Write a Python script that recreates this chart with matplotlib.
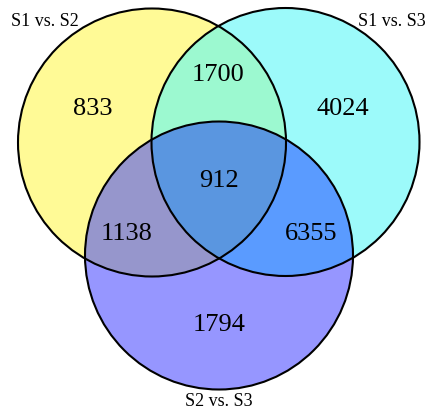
import numpy as np
import matplotlib
matplotlib.use('Agg')
import matplotlib.pyplot as plt
from matplotlib.patches import Circle, Polygon

# region counts
only_s12 = 833
only_s13 = 4024
only_s23 = 1794
s12_s13 = 1700
s12_s23 = 1138
s13_s23 = 6355
all_three = 912
set_names = ['S1 vs. S2', 'S1 vs. S3', 'S2 vs. S3']

plt.rcParams['font.family'] = ['Liberation Serif', 'DejaVu Serif']

fig = plt.figure(figsize=(4.27, 4.12), dpi=100)
ax = fig.add_axes([0, 0, 1, 1])
ax.set_xlim(0, 427)
ax.set_ylim(412, 0)
ax.set_aspect('equal')
ax.axis('off')

r = 134
centers = [(152, 142.5), (285.5, 142), (219, 255.5)]
base_cols = ['#fffa96', '#9cfafa', '#9696ff']


def inside(p, c):
    return (p[0] - c[0]) ** 2 + (p[1] - c[1]) ** 2 <= r ** 2 + 1e-6


def region(idx):
    # boundary points of the chosen circles that lie inside all of them
    t = np.linspace(0, 2 * np.pi, 720, endpoint=False)
    pts = []
    for i in idx:
        cx, cy = centers[i]
        for a in t:
            p = (cx + r * np.cos(a), cy + r * np.sin(a))
            if all(inside(p, centers[j]) for j in idx if j != i):
                pts.append(p)
    pts = np.array(pts)
    m = pts.mean(axis=0)
    order = np.argsort(np.arctan2(pts[:, 1] - m[1], pts[:, 0] - m[0]))
    return pts[order]


for c, col in zip(centers, base_cols):
    ax.add_patch(Circle(c, r, facecolor=col, edgecolor='none'))

for idx, col in [((0, 1), '#9cf9d0'), ((0, 2), '#9696cc'),
                 ((1, 2), '#5a9bff'), ((0, 1, 2), '#5a96e0')]:
    ax.add_patch(Polygon(region(idx), closed=True, facecolor=col,
                         edgecolor='none'))

for c in centers:
    ax.add_patch(Circle(c, r, facecolor='none', edgecolor='black', lw=1.5))

counts = [only_s12, only_s13, only_s23, s12_s13, s12_s23, s13_s23, all_three]
spots = [(93, 109), (343, 109), (219, 325), (218, 75), (127, 234),
         (311, 234), (219, 181)]
for n, (x, y) in zip(counts, spots):
    ax.text(x, y, str(n), fontsize=19, ha='center', va='center')

ax.text(11, 21, set_names[0], fontsize=13, ha='left', va='center')
ax.text(426, 21, set_names[1], fontsize=13, ha='right', va='center')
ax.text(219, 402, set_names[2], fontsize=13, ha='center', va='center')

plt.savefig('out.png', dpi=100)
